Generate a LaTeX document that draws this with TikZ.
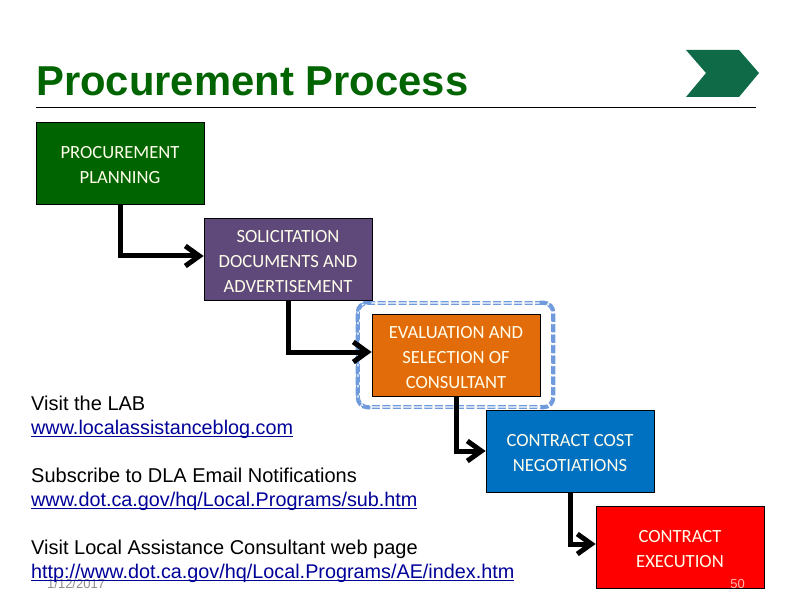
\documentclass[tikz,border=0pt]{standalone}
\usepackage{fontspec}
\usepackage{xcolor}
\usetikzlibrary{arrows.meta}
\setmainfont{Liberation Sans}
\newfontfamily\boxfont{Carlito}
\definecolor{plangreen}{HTML}{006400}
\definecolor{solpurple}{HTML}{5F497A}
\definecolor{evalorange}{HTML}{E36C0A}
\definecolor{costblue}{HTML}{0070C0}
\definecolor{execred}{HTML}{FF0000}
\definecolor{ringblue}{HTML}{6F9BDD}
\definecolor{chevgreen}{HTML}{0F6B47}
\definecolor{linkblue}{HTML}{000099}
\tikzset{
  stage/.style={draw=black, line width=0.8pt, minimum width=168pt, minimum height=82pt, inner sep=0pt,
    text=white!92!yellow, align=center, font=\boxfont\fontsize{18.6}{25}\selectfont},
  flow/.style={line width=5pt, -{Straight Barb[length=14pt,width=20pt,line width=5pt]}},
  ringside/.style={ringblue, line width=3.4pt, dash pattern=on 8pt off 2.5pt, rounded corners=10pt},
  info/.style={anchor=west, align=left, inner sep=0pt, font=\fontsize{20}{24}\selectfont},
  foot/.style={text=black!45, inner sep=0pt, font=\fontsize{13}{14}\selectfont}
}
\newcommand{\weblink}[1]{\textcolor{linkblue}{\fontsize{19.8}{24}\selectfont\setbox0\hbox{#1}\rlap{\rule[-2.6pt]{\wd0}{1.2pt}}\box0}}
\newcommand{\lowline}[1]{\raisebox{-8pt}[0pt][0pt]{#1}}
\begin{document}
\begin{tikzpicture}[x=1pt, y=-1pt]
\useasboundingbox (0,0) rectangle (792,612);

% Title and rule
\node[anchor=west, inner sep=0pt, text=plangreen, font=\bfseries\fontsize{41.8}{46}\selectfont] (title) at (36,81) {Procurement Process};
\draw[line width=0.7pt] (36,107) -- (756,107);
\fill[chevgreen] (686,50) -- (739,50) -- (759,73) -- (739,97) -- (686,97) -- (706,73) -- cycle;

% Date
\node[foot, anchor=west] (date) at (47,584) {1/12/2017};

% Highlight round the current step
\node[draw=ringblue, dash pattern=on 8pt off 2.5pt, double=white, line width=1.2pt, double distance=1.2pt, rounded corners=10pt,
  minimum width=195pt, minimum height=104pt] (ring) at (455.5,355) {};
\draw[ringside] ([xshift=14pt]ring.north west) -- (ring.north west) -- (ring.south west) -- ([xshift=14pt]ring.south west);
\draw[ringside] ([xshift=-14pt]ring.north east) -- (ring.north east) -- (ring.south east) -- ([xshift=-14pt]ring.south east);

% Steps
\node[stage, fill=plangreen] (planning) at (120,163) {\lowline{PROCUREMENT}\\\lowline{PLANNING}};
\node[stage, fill=solpurple] (solicitation) at (288,259) {\lowline{SOLICITATION}\\\lowline{DOCUMENTS AND}\\\lowline{ADVERTISEMENT}};
\node[stage, fill=evalorange] (evaluation) at (456,355) {\lowline{EVALUATION AND}\\\lowline{SELECTION OF}\\\lowline{CONSULTANT}};
\node[stage, fill=costblue] (cost) at (570,451) {\lowline{CONTRACT COST}\\\lowline{NEGOTIATIONS}};
\node[stage, fill=execred] (execution) at (680,547) {\lowline{CONTRACT}\\\lowline{EXECUTION}};

% Connectors
\draw[flow] (planning.south) |- ([yshift=3pt]solicitation.west);
\draw[flow] (solicitation.south) |- ([yshift=3pt]evaluation.west);
\draw[flow] (evaluation.south) |- (cost.west);
\draw[flow] (cost.south) |- ([yshift=3pt]execution.west);

% Page number
\node[foot, anchor=east, text=white!70!red] (page) at (745,584) {50};

% Links
\node[info] (lab) at (31,417) {Visit the LAB\\\weblink{www.localassistanceblog.com}};
\node[info] (email) at (31,489) {Subscribe to DLA Email Notifications\\\weblink{www.dot.ca.gov/hq/Local.Programs/sub.htm}};
\node[info] (consultant) at (31,561) {Visit Local Assistance Consultant web page\\\weblink{http://www.dot.ca.gov/hq/Local.Programs/AE/index.htm}};
\end{tikzpicture}
\end{document}
